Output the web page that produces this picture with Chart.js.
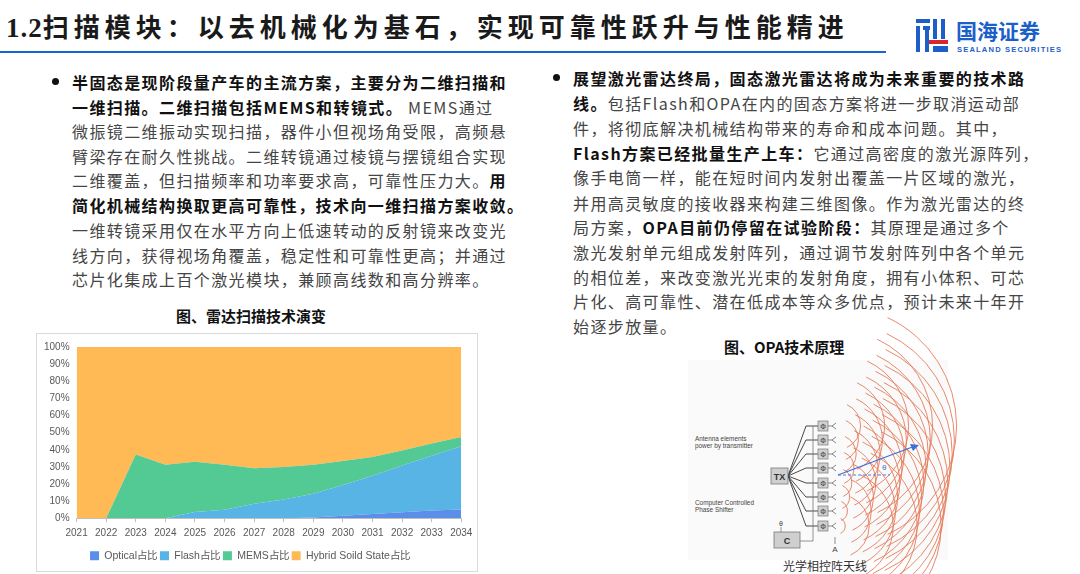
<!DOCTYPE html>
<html lang="zh-CN">
<head>
<meta charset="utf-8">
<script src="https://cdn.jsdelivr.net/npm/chart.js@4.4.0/dist/chart.umd.min.js"></script>
<style>
  html, body { margin:0; padding:0; background:#fff; }
  body { width:1080px; height:574px; position:relative; overflow:hidden;
         font-family:"Noto Sans CJK SC","Noto Sans",sans-serif; }
  .title { position:absolute; left:6px; top:8px; font-size:26px; font-weight:bold; color:#1a1a1a;
           letter-spacing:5px; white-space:nowrap; line-height:36px; }
  .title .num { font-family:"Liberation Serif","DejaVu Serif",serif; letter-spacing:1px; font-size:27px; }
  .rule { position:absolute; left:0; top:51px; width:886px; height:2px; background:#1a63d4; }
  .ln { position:absolute; white-space:nowrap; font-size:16px; letter-spacing:1.4px; color:#454545;
        line-height:24px; }
  .ln b { color:#111; }
  .dot { position:absolute; width:7px; height:7px; border-radius:50%; background:#111; }
  .cap { position:absolute; font-size:15px; font-weight:bold; color:#111; white-space:nowrap; line-height:20px; }
  #box { position:absolute; left:36px; top:333px; width:440px; height:237px; border:1px solid #dadada; }
  svg { position:absolute; left:0; top:0; }
</style>
</head>
<body>

<div class="title"><span class="num">1.2</span>扫描模块：以去机械化为基石，实现可靠性跃升与性能精进</div>
<div class="rule"></div>

<!-- 左栏 -->
<div class="dot" style="left:52px;top:78px"></div>
<div class="ln" style="left:72px;top:70px"><b>半固态是现阶段量产车的主流方案，主要分为二维扫描和</b></div>
<div class="ln" style="left:72px;top:95px"><b>一维扫描。二维扫描包括MEMS和转镜式。</b> MEMS通过</div>
<div class="ln" style="left:72px;top:119px">微振镜二维振动实现扫描，器件小但视场角受限，高频悬</div>
<div class="ln" style="left:72px;top:144px">臂梁存在耐久性挑战。二维转镜通过棱镜与摆镜组合实现</div>
<div class="ln" style="left:72px;top:168px">二维覆盖，但扫描频率和功率要求高，可靠性压力大。<b>用</b></div>
<div class="ln" style="left:72px;top:193px"><b>简化机械结构换取更高可靠性，技术向一维扫描方案收敛。</b></div>
<div class="ln" style="left:72px;top:218px">一维转镜采用仅在水平方向上低速转动的反射镜来改变光</div>
<div class="ln" style="left:72px;top:243px">线方向，获得视场角覆盖，稳定性和可靠性更高；并通过</div>
<div class="ln" style="left:72px;top:267px">芯片化集成上百个激光模块，兼顾高线数和高分辨率。</div>
<div class="cap" style="left:176px;top:306px">图、雷达扫描技术演变</div>

<!-- 右栏 -->
<div class="dot" style="left:553px;top:74px"></div>
<div class="ln" style="left:573px;top:66px"><b>展望激光雷达终局，固态激光雷达将成为未来重要的技术路</b></div>
<div class="ln" style="left:573px;top:91px"><b>线。</b>包括Flash和OPA在内的固态方案将进一步取消运动部</div>
<div class="ln" style="left:573px;top:116px">件，将彻底解决机械结构带来的寿命和成本问题。其中，</div>
<div class="ln" style="left:573px;top:141px"><b>Flash方案已经批量生产上车：</b>它通过高密度的激光源阵列，</div>
<div class="ln" style="left:573px;top:165px">像手电筒一样，能在短时间内发射出覆盖一片区域的激光，</div>
<div class="ln" style="left:573px;top:191px">并用高灵敏度的接收器来构建三维图像。作为激光雷达的终</div>
<div class="ln" style="left:573px;top:215px">局方案，<b>OPA目前仍停留在试验阶段：</b>其原理是通过多个</div>
<div class="ln" style="left:573px;top:240px">激光发射单元组成发射阵列，通过调节发射阵列中各个单元</div>
<div class="ln" style="left:573px;top:265px">的相位差，来改变激光光束的发射角度，拥有小体积、可芯</div>
<div class="ln" style="left:573px;top:289px">片化、高可靠性、潜在低成本等众多优点，预计未来十年开</div>
<div class="ln" style="left:573px;top:314px">始逐步放量。</div>
<div class="cap" style="left:724px;top:337px">图、OPA技术原理</div>

<!-- 标志与OPA示意图 -->
<svg id="art" width="1080" height="574" viewBox="0 0 1080 574">
  <!-- logo -->
  <g fill="#1d5fc8">
    <rect x="916" y="19" width="14" height="4"/>
    <rect x="916" y="26" width="4" height="26"/>
    <rect x="923" y="26" width="7" height="4"/>
    <rect x="925" y="30" width="4" height="22"/>
    <rect x="933" y="19" width="4" height="20"/>
    <rect x="941" y="19" width="4" height="20"/>
    <rect x="933" y="46" width="15" height="6"/>
  </g>
  <rect x="929" y="40" width="19" height="4" fill="#d9262c"/>
  <text x="956" y="39" font-size="21" font-weight="bold" fill="#1d5fc8" font-family="Noto Sans CJK SC">国海证券</text>
  <text x="957" y="52" font-size="7.6" font-weight="bold" fill="#1d5fc8" font-family="Liberation Sans" textLength="104">SEALAND SECURITIES</text>

  <!-- OPA diagram -->
  <rect x="688" y="360" width="260" height="200" fill="#fafafa"/>
  <g id="waves" fill="none" stroke="#e2663f" stroke-width="0.9" opacity="0.85"></g>
  <g id="feeds" fill="none" stroke="#333" stroke-width="0.9"></g>
  <g id="phis"></g>
  <rect x="771" y="468" width="17" height="16" fill="#cfcfcf" stroke="#777" stroke-width="0.8"/>
  <text x="779.5" y="480" font-size="9" font-weight="bold" text-anchor="middle" fill="#333" font-family="Liberation Sans">TX</text>
  <rect x="774" y="532" width="26" height="16" fill="#cfcfcf" stroke="#777" stroke-width="0.8"/>
  <text x="787" y="544" font-size="9" font-weight="bold" text-anchor="middle" fill="#333" font-family="Liberation Sans">C</text>
  <text x="781" y="526" font-size="7" text-anchor="middle" fill="#444" font-family="Liberation Sans">θ</text>
  <line x1="781" y1="527" x2="781" y2="532" stroke="#666" stroke-width="0.7"/>
  <path d="M800 541 H813 V426" fill="none" stroke="#777" stroke-width="0.8"/>
  <text x="835" y="552" font-size="8" text-anchor="middle" fill="#444" font-family="Liberation Sans">A</text>
  <line x1="835" y1="544" x2="835" y2="537" stroke="#444" stroke-width="0.6"/>
  <g font-family="Liberation Sans" font-size="6.4" fill="#444">
    <text x="695" y="441">Antenna elements</text>
    <text x="695" y="448">power by transmitter</text>
    <text x="695" y="505">Computer Controlled</text>
    <text x="695" y="512">Phase Shifter</text>
  </g>
  <line x1="838" y1="475" x2="890" y2="475" stroke="#4a7fe0" stroke-width="1" stroke-dasharray="3,2"/>
  <line x1="838" y1="475" x2="915" y2="446" stroke="#3d6fdc" stroke-width="1.2"/>
  <polygon points="919,445 910,444 913,451" fill="#3d6fdc"/>
  <text x="882" y="470" font-size="8" fill="#3d6fdc" font-family="Liberation Sans">θ</text>
  <text x="825" y="571" font-size="12" text-anchor="middle" fill="#333" font-family="Noto Sans CJK SC">光学相控阵天线</text>
</svg>

<div id="box"><canvas id="scanChart" width="440" height="237"></canvas></div>

<script>
// 数据（占比，%）
const years   = ['2021','2022','2023','2024','2025','2026','2027','2028','2029','2030','2031','2032','2033','2034'];
const optical = [0, 0, 0,    0,    0,    0,    0,    0,    0.5,  1.5,  2.5,  3.5,  4.5,  5.2];
const flash   = [0, 0, 0,    0,    3.7,  5,    8.5,  11,   13.9, 17.9, 22.3, 27.3, 32,   36.8];
const mems    = [0, 0, 37.3, 31.2, 29.3, 26.3, 20.7, 19,   16.8, 14.1, 11,   8.8,  7.2,  5.5];
const hybrid  = [100, 100, 62.7, 68.8, 67, 68.7, 70.8, 70, 68.8, 66.5, 64.2, 60.4, 56.3, 52.5];
const yTicks  = [0,10,20,30,40,50,60,70,80,90,100];

// OPA示意图的装饰线
const ns = 'http://www.w3.org/2000/svg';
const emY = [426, 440, 454, 468, 483, 497, 511, 526];
const feeds = document.getElementById('feeds');
const phis  = document.getElementById('phis');
const waves = document.getElementById('waves');
emY.forEach((y, i) => {
    const p = document.createElementNS(ns, 'path');
    p.setAttribute('d', `M788 476 L806 ${y} H818`);
    feeds.appendChild(p);
    const r = document.createElementNS(ns, 'rect');
    r.setAttribute('x', 818); r.setAttribute('y', y - 5);
    r.setAttribute('width', 10); r.setAttribute('height', 10);
    r.setAttribute('fill', '#cfcfcf'); r.setAttribute('stroke', '#777'); r.setAttribute('stroke-width', 0.7);
    phis.appendChild(r);
    const t = document.createElementNS(ns, 'text');
    t.setAttribute('x', 823); t.setAttribute('y', y + 3);
    t.setAttribute('font-size', 7); t.setAttribute('text-anchor', 'middle'); t.setAttribute('fill', '#333');
    t.textContent = 'Φ';
    phis.appendChild(t);
    const a = document.createElementNS(ns, 'path');
    a.setAttribute('d', `M828 ${y} H832 M836 ${y - 3} L832 ${y} L836 ${y + 3}`);
    a.setAttribute('stroke', '#555'); a.setAttribute('fill', 'none'); a.setAttribute('stroke-width', 0.7);
    phis.appendChild(a);
    for (let k = 0; k < 5; k++) {
        const rad = 6 + k * 24 + (emY.length - i) * 2.2;
        const a0 = -65 * Math.PI / 180, a1 = 65 * Math.PI / 180;
        const x0 = 837 + rad * Math.cos(a0), y0 = y + rad * Math.sin(a0);
        const x1 = 837 + rad * Math.cos(a1), y1 = y + rad * Math.sin(a1);
        const w = document.createElementNS(ns, 'path');
        w.setAttribute('d', `M${x0} ${y0} A${rad} ${rad} 0 0 1 ${x1} ${y1}`);
        waves.appendChild(w);
    }
});

Chart.defaults.font.family = '"Liberation Sans", Arial, sans-serif';
Chart.defaults.color = '#595959';

const mk = (label, data, color, fill) => ({
    label, data, fill,
    backgroundColor: color, borderColor: color,
    borderWidth: 0, pointRadius: 0, tension: 0
});

new Chart(document.getElementById('scanChart').getContext('2d'), {
    type: 'line',
    data: {
        labels: years,
        datasets: [
            mk('Optical占比', optical, '#5b8ee9', 'origin'),
            mk('Flash占比', flash, '#58b4e4', '-1'),
            mk('MEMS占比', mems, '#53c993', '-1'),
            mk('Hybrid Soild State占比', hybrid, '#ffb955', '-1'),
        ]
    },
    options: {
        responsive: false,
        animation: false,
        layout: { padding: { top: 3, right: 14, left: 0, bottom: 0 } },
        plugins: {
            tooltip: { enabled: false },
            legend: {
                position: 'bottom',
                labels: { boxWidth: 9, boxHeight: 9, padding: 3, font: { size: 10.5 }, color: '#595959' }
            }
        },
        scales: {
            x: {
                offset: false,
                grid: { display: true, drawOnChartArea: false, tickLength: 4, color: '#bfbfbf' },
                border: { color: '#bfbfbf' },
                ticks: { font: { size: 10 }, maxRotation: 0, autoSkip: false, padding: 4.6 },
                afterFit: s => { s.height += 4; }
            },
            y: {
                stacked: true,
                min: 0, max: 100,
                afterBuildTicks: axis => { axis.ticks = yTicks.map(v => ({ value: v })); },
                grid: { display: false, drawTicks: false },
                border: { display: false },
                ticks: { font: { size: 10 }, callback: v => v + '%', padding: 7 }
            }
        }
    }
});
</script>
</body>
</html>
